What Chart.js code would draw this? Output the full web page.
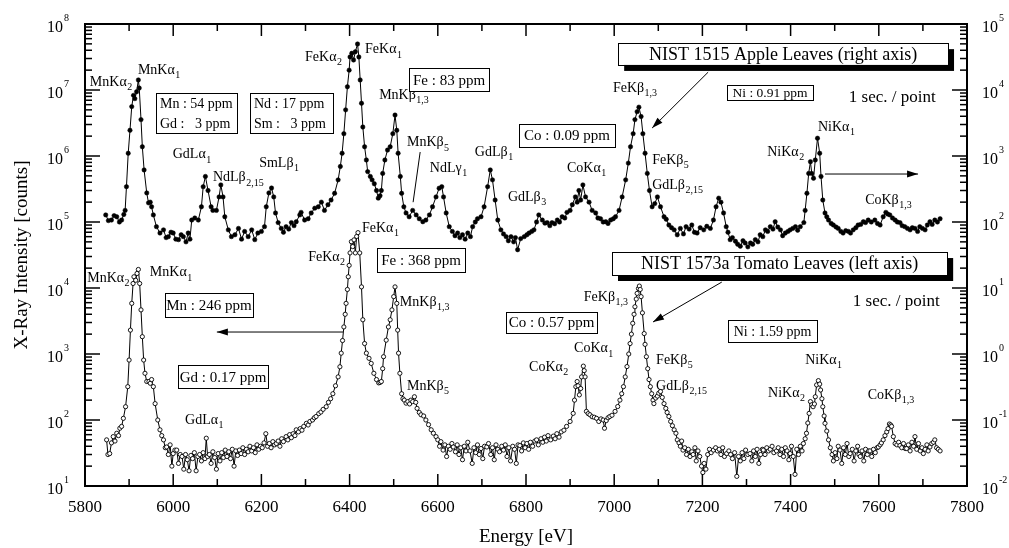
<!DOCTYPE html>
<html>
<head>
<meta charset="utf-8">
<script src="https://cdn.jsdelivr.net/npm/chart.js@4.4.1/dist/chart.umd.min.js"></script>
<style>
body { margin: 0; background: #fff; }
</style>
</head>
<body>
<canvas id="xrfChart" width="1009" height="548"></canvas>
<script>
// NIST 1515 Apple Leaves, [energy eV, counts] on the right axis
const appleScan = [
  [5847,128],[5853,105],[5860,107],[5866,125],[5872,120],[5878,100],[5883,107],[5888,130],[5891,150],[5894,343],
  [5898,1100],[5902,2450],[5906,5600],[5910,8300],[5913,7400],[5917,9400],[5921,14200],[5923,10700],[5927,3560],[5930,1380],
  [5934,615],[5940,276],[5944,195],[5948,200],[5951,170],[5955,128],[5962,85],[5970,68],[5978,76],[5984,58],
  [5989,60],[5995,70],[6000,68],[6006,55],[6012,54],[6018,64],[6023,60],[6029,50],[6034,68],[6038,55],
  [6042,107],[6049,115],[6057,107],[6064,170],[6068,343],[6073,490],[6079,300],[6086,170],[6090,150],[6098,150],
  [6104,240],[6108,365],[6113,240],[6117,120],[6125,76],[6132,60],[6140,64],[6148,80],[6155,55],[6162,72],
  [6170,60],[6178,76],[6185,54],[6192,68],[6200,72],[6207,85],[6211,170],[6217,276],[6223,327],[6228,240],
  [6232,137],[6238,98],[6245,80],[6250,70],[6256,85],[6262,78],[6268,98],[6274,88],[6279,101],[6287,128],
  [6290,140],[6298,107],[6306,112],[6313,137],[6321,162],[6329,170],[6336,200],[6343,150],[6351,183],[6358,215],
  [6366,272],[6374,435],[6379,695],[6383,1100],[6387,2180],[6391,5000],[6395,11200],[6399,20000],[6401,31700],[6405,36000],
  [6409,28500],[6413,38000],[6418,49800],[6421,31700],[6424,14200],[6427,6300],[6430,2750],[6434,1380],[6438,870],[6441,580],
  [6447,490],[6451,435],[6456,380],[6461,300],[6465,230],[6469,250],[6472,300],[6475,545],[6480,870],[6486,1230],
  [6492,1380],[6498,2180],[6503,4170],[6507,2450],[6510,1100],[6515,490],[6518,272],[6523,170],[6528,137],[6535,120],
  [6543,150],[6551,128],[6558,112],[6566,101],[6573,107],[6581,128],[6588,170],[6596,240],[6603,325],[6609,343],
  [6613,240],[6619,137],[6626,85],[6633,72],[6639,62],[6645,68],[6650,58],[6656,64],[6662,55],[6668,68],
  [6674,60],[6679,85],[6685,100],[6690,112],[6698,120],[6705,170],[6713,343],[6719,615],[6724,435],[6730,215],
  [6736,107],[6743,76],[6749,66],[6755,60],[6760,52],[6766,60],[6772,50],[6776,58],[6781,38],[6788,56],
  [6796,60],[6802,64],[6807,68],[6813,72],[6818,76],[6824,100],[6829,128],[6837,107],[6843,96],[6848,98],
  [6854,88],[6859,98],[6865,94],[6871,107],[6876,100],[6882,120],[6888,115],[6893,140],[6900,150],[6905,183],
  [6912,240],[6916,200],[6920,300],[6924,215],[6929,365],[6935,240],[6943,200],[6950,150],[6958,137],[6963,115],
  [6969,112],[6975,100],[6981,101],[6986,95],[6992,107],[6998,112],[7003,120],[7011,150],[7018,240],[7026,435],
  [7032,780],[7037,1380],[7043,2180],[7047,3560],[7052,4700],[7056,5500],[7061,3960],[7065,2180],[7070,1100],[7075,545],
  [7080,300],[7086,170],[7092,190],[7098,240],[7105,170],[7113,120],[7118,110],[7124,90],[7130,82],[7136,76],
  [7143,64],[7150,80],[7157,66],[7163,85],[7170,78],[7176,90],[7182,70],[7188,68],[7195,82],[7203,76],
  [7210,86],[7218,80],[7225,107],[7231,170],[7237,230],[7242,200],[7248,137],[7254,85],[7258,70],[7263,54],
  [7268,58],[7275,51],[7280,46],[7286,43],[7292,52],[7297,48],[7303,42],[7309,48],[7314,46],[7320,54],
  [7326,50],[7331,64],[7337,60],[7343,76],[7348,72],[7354,85],[7360,78],[7365,101],[7371,84],[7377,76],
  [7382,62],[7388,68],[7394,72],[7399,76],[7405,80],[7411,85],[7416,75],[7422,85],[7430,98],[7433,150],
  [7437,272],[7441,545],[7445,820],[7448,545],[7452,460],[7456,870],[7461,1860],[7466,1100],[7469,490],[7473,215],
  [7478,137],[7482,120],[7486,107],[7492,95],[7497,90],[7503,84],[7508,80],[7514,72],[7519,68],[7525,74],
  [7531,72],[7536,68],[7542,76],[7548,82],[7553,90],[7559,92],[7565,101],[7570,98],[7576,107],[7583,100],
  [7591,107],[7597,95],[7603,90],[7610,120],[7616,140],[7620,132],[7625,128],[7631,115],[7637,107],[7642,100],
  [7648,98],[7653,88],[7659,85],[7665,80],[7671,76],[7676,82],[7682,80],[7688,72],[7693,85],[7699,80],
  [7705,76],[7710,90],[7716,101],[7721,92],[7727,107],[7733,100],[7739,112]
];

// NIST 1573a Tomato Leaves, [energy eV, counts] on the left axis
const tomatoScan = [
  [5849,50],[5852,30],[5856,31],[5860,45],[5864,56],[5868,48],[5872,63],[5876,58],[5879,75],[5883,80],
  [5887,106],[5892,159],[5897,320],[5900,810],[5903,2300],[5906,5850],[5909,11700],[5911,14800],[5915,13100],[5918,16600],
  [5921,19100],[5924,11700],[5927,4660],[5930,1830],[5933,810],[5936,510],[5940,383],[5945,383],[5948,360],[5951,410],
  [5955,320],[5959,177],[5965,100],[5970,71],[5974,58],[5978,50],[5982,38],[5985,39],[5989,30],[5993,42],
  [5997,20],[6000,31],[6004,35],[6008,35],[6012,22],[6016,30],[6020,28],[6024,18],[6028,30],[6032,25],
  [6036,17],[6040,29],[6044,26],[6048,32],[6052,17],[6056,28],[6060,30],[6064,24],[6068,32],[6072,26],
  [6075,53],[6078,28],[6082,30],[6086,22],[6090,33],[6094,27],[6098,18],[6102,31],[6106,24],[6110,32],
  [6114,27],[6118,35],[6122,28],[6126,33],[6130,26],[6134,36],[6138,20],[6142,34],[6146,29],[6150,35],
  [6154,31],[6158,38],[6162,30],[6166,36],[6170,33],[6174,40],[6178,34],[6182,38],[6186,32],[6190,42],
  [6194,36],[6198,40],[6202,38],[6206,45],[6210,62],[6214,40],[6218,44],[6222,38],[6226,47],[6230,42],
  [6234,44],[6238,48],[6242,40],[6246,52],[6250,47],[6256,56],[6260,50],[6264,60],[6268,54],[6272,62],
  [6276,58],[6279,71],[6284,66],[6288,74],[6292,70],[6296,80],[6302,89],[6306,84],[6310,95],[6316,100],
  [6320,108],[6324,113],[6330,125],[6335,132],[6340,145],[6347,159],[6352,185],[6357,210],[6362,250],[6368,330],
  [6374,450],[6378,640],[6381,1030],[6384,1600],[6387,2570],[6390,4000],[6392,5850],[6395,9500],[6397,14800],[6399,22000],
  [6401,34000],[6404,50300],[6407,42400],[6410,53600],[6413,34000],[6416,60400],[6419,69000],[6423,34000],[6427,10400],[6430,3300],
  [6434,1440],[6438,1030],[6444,860],[6449,720],[6455,510],[6461,410],[6466,365],[6469,370],[6472,383],[6475,600],
  [6477,910],[6483,1620],[6488,2570],[6492,3300],[6496,4660],[6500,7400],[6503,10400],[6507,5850],[6509,2300],[6511,1030],
  [6514,510],[6518,250],[6521,210],[6524,200],[6528,180],[6532,190],[6536,175],[6539,200],[6543,190],[6547,225],
  [6550,185],[6553,150],[6558,130],[6562,120],[6568,115],[6573,100],[6579,85],[6585,71],[6590,63],[6596,56],
  [6600,50],[6604,40],[6607,47],[6612,35],[6616,42],[6620,28],[6624,40],[6628,36],[6632,44],[6635,39],
  [6640,33],[6644,42],[6648,30],[6652,38],[6656,25],[6660,40],[6664,34],[6668,46],[6673,34],[6678,22],
  [6682,38],[6686,32],[6690,42],[6694,30],[6698,37],[6702,26],[6706,40],[6711,39],[6715,44],[6720,30],
  [6724,38],[6728,25],[6732,42],[6736,36],[6740,33],[6745,40],[6749,35],[6753,42],[6757,28],[6761,38],
  [6765,24],[6770,40],[6774,36],[6778,22],[6782,42],[6786,41],[6790,34],[6794,45],[6798,38],[6802,44],
  [6806,36],[6810,46],[6815,40],[6820,48],[6824,50],[6828,42],[6834,52],[6838,46],[6842,55],[6846,48],
  [6850,58],[6856,50],[6862,57],[6866,52],[6870,62],[6875,55],[6880,66],[6886,70],[6892,80],[6900,95],
  [6907,126],[6910,200],[6913,320],[6916,383],[6918,330],[6921,240],[6924,300],[6926,450],[6930,655],[6932,560],
  [6934,450],[6937,135],[6941,125],[6945,120],[6950,112],[6955,110],[6960,106],[6965,95],[6970,104],[6975,100],
  [6978,75],[6982,98],[6986,108],[6990,113],[6995,118],[7002,135],[7008,160],[7013,200],[7017,250],[7021,320],
  [7025,450],[7029,645],[7033,1000],[7036,1440],[7039,2000],[7042,2920],[7045,4000],[7047,5200],[7050,6800],[7052,8300],
  [7055,9800],[7057,10700],[7059,9500],[7061,7400],[7064,4200],[7068,2040],[7070,1400],[7073,910],[7076,600],[7079,410],
  [7082,320],[7085,250],[7088,200],[7090,177],[7094,215],[7098,230],[7101,255],[7105,270],[7109,220],[7113,177],
  [7117,150],[7120,130],[7124,113],[7128,95],[7132,82],[7136,71],[7140,63],[7143,50],[7147,45],[7150,40],
  [7153,48],[7156,35],[7160,38],[7164,30],[7168,36],[7172,28],[7176,33],[7179,30],[7183,38],[7186,24],
  [7190,34],[7194,28],[7198,20],[7201,16],[7204,22],[7208,18],[7212,30],[7216,36],[7220,32],[7225,35],
  [7230,38],[7234,34],[7238,36],[7242,30],[7246,38],[7250,28],[7255,31],[7260,34],[7264,30],[7268,26],
  [7273,32],[7278,14],[7282,28],[7286,24],[7290,32],[7294,26],[7298,35],[7303,30],[7308,31],[7312,24],
  [7316,34],[7320,28],[7324,36],[7328,22],[7332,30],[7336,36],[7338,35],[7342,30],[7346,38],[7350,34],
  [7354,36],[7358,40],[7362,32],[7368,34],[7372,38],[7376,30],[7380,36],[7384,28],[7388,38],[7392,34],
  [7396,25],[7399,31],[7402,40],[7406,28],[7410,15],[7414,36],[7418,30],[7422,40],[7426,34],[7429,44],
  [7433,52],[7436,63],[7439,90],[7442,126],[7445,190],[7448,170],[7451,159],[7454,175],[7456,225],[7459,340],
  [7463,395],[7466,350],[7468,285],[7471,210],[7473,159],[7476,115],[7478,89],[7482,68],[7486,50],[7490,38],
  [7494,30],[7497,24],[7501,32],[7505,26],[7508,40],[7512,35],[7516,22],[7520,38],[7524,30],[7528,44],
  [7532,28],[7535,31],[7540,36],[7544,24],[7548,34],[7552,40],[7555,30],[7558,28],[7562,34],[7566,24],
  [7570,36],[7574,30],[7577,34],[7580,34],[7584,28],[7588,36],[7592,32],[7596,38],[7599,39],[7603,42],
  [7606,45],[7610,50],[7614,58],[7618,66],[7621,74],[7624,87],[7627,84],[7629,80],[7633,56],[7637,44],
  [7641,42],[7645,46],[7648,41],[7652,38],[7656,44],[7660,37],[7663,37],[7667,42],[7671,34],[7675,46],
  [7679,40],[7682,56],[7686,36],[7690,44],[7694,34],[7698,38],[7701,31],[7705,36],[7709,42],[7712,34],
  [7716,39],[7720,44],[7724,46],[7727,50],[7731,38],[7735,36],[7739,34]
];

// axis ranges and tick labels
const energyRange = [5800, 7800];
const energyLabels = [5800, 6000, 6200, 6400, 6600, 6800, 7000, 7200, 7400, 7600, 7800];
const leftExponents = [1, 2, 3, 4, 5, 6, 7, 8];
const rightExponents = [-2, -1, 0, 1, 2, 3, 4, 5];

// peak names: [name, subscript, energy, log10 of left-axis counts]
const peakNames = [
  ['MnKα','2',5811,7.12], ['MnKα','1',5920,7.30], ['FeKα','2',6299,7.50], ['FeKα','1',6435,7.61],
  ['MnKβ','1,3',6467,6.92], ['GdLα','1',5999,6.02], ['NdLβ','2,15',6090,5.67], ['SmLβ','1',6195,5.89],
  ['MnKβ','5',6530,6.20], ['NdLγ','1',6582,5.82], ['GdLβ','1',6684,6.06], ['GdLβ','3',6759,5.38],
  ['CoKα','1',6893,5.82], ['FeKβ','1,3',6997,7.03], ['FeKβ','5',7086,5.94], ['GdLβ','2,15',7086,5.56],
  ['NiKα','2',7347,6.06], ['NiKα','1',7462,6.44], ['CoKβ','1,3',7569,5.33],
  ['MnKα','2',5805,4.15], ['MnKα','1',5947,4.23], ['GdLα','1',6027,2.0], ['FeKα','2',6306,4.47],
  ['FeKα','1',6428,4.91], ['MnKβ','1,3',6514,3.79], ['MnKβ','5',6530,2.515], ['CoKα','2',6807,2.80],
  ['CoKα','1',6909,3.08], ['FeKβ','1,3',6931,3.86], ['FeKβ','5',7095,2.91], ['GdLβ','2,15',7095,2.515],
  ['NiKα','2',7349,2.41], ['NiKα','1',7433,2.91], ['CoKβ','1,3',7575,2.38]
];

// concentration boxes: [lines, e0, e1, top, bottom (log10 left counts), font px]
const ppmBoxes = [
  [['Fe : 83 ppm'], 6535, 6716, 7.33, 6.985, 15],
  [['Mn : 54 ppm', 'Gd :   3 ppm'], 5961, 6145, 6.955, 6.35, 14],
  [['Nd : 17 ppm', 'Sm :   3 ppm'], 6174, 6362, 6.955, 6.35, 14],
  [['Co : 0.09 ppm'], 6784, 7002, 6.485, 6.136, 15],
  [['Ni : 0.91 ppm'], 7256, 7451, 7.076, 6.85, 13.5],
  [['Mn : 246 ppm'], 5981, 6181, 3.92, 3.56, 15],
  [['Gd : 0.17 ppm'], 6011, 6215, 2.83, 2.485, 15],
  [['Fe : 368 ppm'], 6462, 6662, 4.606, 4.24, 15],
  [['Co : 0.57 ppm'], 6755, 6961, 3.636, 3.32, 15],
  [['Ni : 1.59 ppm'], 7258, 7460, 3.515, 3.18, 14]
];

const sampleBoxes = [
  ['NIST 1515 Apple Leaves (right axis)', 7009, 7757, 7.71, 7.38],
  ['NIST 1573a Tomato Leaves (left axis)', 6995, 7755, 4.545, 4.197]
];

const timeNotes = [
  ['1 sec. / point', 7532, 6.88],
  ['1 sec. / point', 7541, 3.79]
];

// [e0, log0, e1, log1, arrow head at end]
const pointers = [
  [7213, 7.27, 7086, 6.424, true],
  [6560, 6.06, 6544, 5.30, false],
  [7478, 5.727, 7689, 5.727, true],
  [7244, 4.09, 7088, 3.485, true],
  [6385, 3.333, 6099, 3.333, true]
];

const SERIF = '"Liberation Serif", "Times New Roman", serif';

function toPx(chart, e, lg) {
  return [chart.scales.x.getPixelForValue(e), chart.scales.y.getPixelForValue(Math.pow(10, lg))];
}

function subText(ctx, base, sub, x, y, size) {
  ctx.textAlign = 'left';
  ctx.textBaseline = 'middle';
  ctx.font = size + 'px ' + SERIF;
  ctx.fillText(base, x, y);
  const w = ctx.measureText(base).width;
  ctx.font = Math.round(size * 0.72) + 'px ' + SERIF;
  ctx.fillText(sub, x + w + 0.5, y + size * 0.38);
}

function powText(ctx, exp, x, y, alignRight) {
  ctx.textAlign = 'left';
  ctx.textBaseline = 'middle';
  ctx.font = '16px ' + SERIF;
  const wb = ctx.measureText('10').width;
  ctx.font = '10px ' + SERIF;
  const we = ctx.measureText(String(exp)).width;
  const x0 = alignRight ? x - wb - we - 1 : x;
  ctx.font = '16px ' + SERIF;
  ctx.fillText('10', x0, y + 4);
  ctx.font = '10px ' + SERIF;
  ctx.fillText(String(exp), x0 + wb + 1, y - 6);
}

function arrowLine(ctx, x0, y0, x1, y1, head) {
  ctx.beginPath();
  ctx.moveTo(x0, y0);
  ctx.lineTo(x1, y1);
  ctx.stroke();
  if (!head) return;
  const a = Math.atan2(y1 - y0, x1 - x0);
  const L = 11, W = 3.5;
  ctx.beginPath();
  ctx.moveTo(x1, y1);
  ctx.lineTo(x1 - L * Math.cos(a) + W * Math.sin(a), y1 - L * Math.sin(a) - W * Math.cos(a));
  ctx.lineTo(x1 - L * Math.cos(a) - W * Math.sin(a), y1 - L * Math.sin(a) + W * Math.cos(a));
  ctx.closePath();
  ctx.fill();
}

const decorations = {
  id: 'decorations',
  afterDraw(chart) {
    const { ctx, chartArea: a, scales } = chart;
    ctx.save();
    ctx.fillStyle = '#000';
    ctx.strokeStyle = '#000';

    // ticks on all four sides, pointing inward
    ctx.lineWidth = 1.5;
    const tick = (x0, y0, x1, y1) => { ctx.beginPath(); ctx.moveTo(x0, y0); ctx.lineTo(x1, y1); ctx.stroke(); };
    for (let e = energyRange[0]; e <= energyRange[1]; e += 100) {
      const x = scales.x.getPixelForValue(e);
      const len = (e % 200 === 0) ? 12 : 7;
      tick(x, a.bottom, x, a.bottom - len);
      tick(x, a.top, x, a.top + len);
    }
    [[scales.y, leftExponents, a.left, 1], [scales.yR, rightExponents, a.right, -1]].forEach(([sc, exps, x, dir]) => {
      exps.forEach((p, i) => {
        const y = sc.getPixelForValue(Math.pow(10, p));
        tick(x, y, x + dir * 15, y);
        if (i < exps.length - 1) {
          for (let m = 2; m <= 9; m++) {
            const ym = sc.getPixelForValue(m * Math.pow(10, p));
            tick(x, ym, x + dir * 7, ym);
          }
        }
      });
    });

    // frame
    ctx.lineWidth = 2;
    ctx.strokeRect(a.left, a.top, a.right - a.left, a.bottom - a.top);

    // tick labels
    ctx.textAlign = 'center';
    ctx.textBaseline = 'middle';
    ctx.font = '17px ' + SERIF;
    energyLabels.forEach(e => ctx.fillText(String(e), scales.x.getPixelForValue(e), a.bottom + 22));
    leftExponents.forEach(p => powText(ctx, p, a.left - 16, scales.y.getPixelForValue(Math.pow(10, p)), true));
    rightExponents.forEach(p => powText(ctx, p, a.right + 15, scales.yR.getPixelForValue(Math.pow(10, p)), false));

    // axis titles
    ctx.font = '19px ' + SERIF;
    ctx.textAlign = 'center';
    ctx.fillText('Energy [eV]', (a.left + a.right) / 2, 537);
    ctx.save();
    ctx.translate(22, (a.top + a.bottom) / 2);
    ctx.rotate(-Math.PI / 2);
    ctx.fillText('X-Ray Intensity [counts]', 0, 0);
    ctx.restore();

    // peak names
    peakNames.forEach(([b, s, e, lg]) => {
      const [x, y] = toPx(chart, e, lg);
      subText(ctx, b, s, x, y, 14);
    });

    // concentration boxes
    ctx.lineWidth = 1;
    ppmBoxes.forEach(([lines, e0, e1, t, b, fs]) => {
      const [x0, y0] = toPx(chart, e0, t);
      const [x1, y1] = toPx(chart, e1, b);
      ctx.fillStyle = '#fff';
      ctx.fillRect(x0, y0, x1 - x0, y1 - y0);
      ctx.strokeRect(Math.round(x0) + 0.5, Math.round(y0) + 0.5, Math.round(x1 - x0), Math.round(y1 - y0));
      ctx.fillStyle = '#000';
      ctx.font = fs + 'px ' + SERIF;
      ctx.textBaseline = 'middle';
      const step = (y1 - y0) / lines.length;
      lines.forEach((txt, i) => {
        const yy = y0 + step * (i + 0.5) + 1;
        if (lines.length > 1) {
          ctx.textAlign = 'left';
          ctx.fillText(txt, x0 + 4, yy);
        } else {
          ctx.textAlign = 'center';
          ctx.fillText(txt, (x0 + x1) / 2, yy);
        }
      });
    });

    // sample boxes with drop shadow
    sampleBoxes.forEach(([txt, e0, e1, t, b]) => {
      const [x0, y0] = toPx(chart, e0, t);
      const [x1, y1] = toPx(chart, e1, b);
      ctx.fillStyle = '#000';
      ctx.fillRect(x0 + 6, y0 + 6, x1 - x0, y1 - y0);
      ctx.fillStyle = '#fff';
      ctx.fillRect(x0, y0, x1 - x0, y1 - y0);
      ctx.strokeRect(Math.round(x0) + 0.5, Math.round(y0) + 0.5, Math.round(x1 - x0), Math.round(y1 - y0));
      ctx.fillStyle = '#000';
      ctx.font = '18px ' + SERIF;
      ctx.textAlign = 'center';
      ctx.textBaseline = 'middle';
      ctx.fillText(txt, (x0 + x1) / 2, (y0 + y1) / 2 + 1);
    });

    timeNotes.forEach(([txt, e, lg]) => {
      const [x, y] = toPx(chart, e, lg);
      ctx.font = '17px ' + SERIF;
      ctx.textAlign = 'left';
      ctx.textBaseline = 'middle';
      ctx.fillText(txt, x, y);
    });

    ctx.lineWidth = 1;
    pointers.forEach(([e0, l0, e1, l1, head]) => {
      const [x0, y0] = toPx(chart, e0, l0);
      const [x1, y1] = toPx(chart, e1, l1);
      arrowLine(ctx, x0, y0, x1, y1, head);
    });

    ctx.restore();
  }
};

new Chart(document.getElementById('xrfChart').getContext('2d'), {
  type: 'line',
  data: {
    datasets: [
      {
        label: 'NIST 1573a Tomato Leaves',
        data: tomatoScan.map(([e, c]) => ({ x: e, y: c })),
        yAxisID: 'y',
        borderColor: '#000',
        borderWidth: 1,
        pointRadius: 2.1,
        pointBorderWidth: 0.9,
        pointBackgroundColor: '#fff',
        pointBorderColor: '#000',
        tension: 0
      },
      {
        label: 'NIST 1515 Apple Leaves',
        data: appleScan.map(([e, c]) => ({ x: e, y: c })),
        yAxisID: 'yR',
        borderColor: '#000',
        borderWidth: 1,
        pointRadius: 2.2,
        pointBorderWidth: 0.5,
        pointBackgroundColor: '#000',
        pointBorderColor: '#000',
        tension: 0
      }
    ]
  },
  options: {
    responsive: false,
    animation: false,
    events: [],
    layout: { padding: { left: 85, right: 42, top: 24, bottom: 62 } },
    plugins: { legend: { display: false }, tooltip: { enabled: false } },
    scales: {
      x: { type: 'linear', min: energyRange[0], max: energyRange[1], display: false },
      y: { type: 'logarithmic', min: 10, max: 1e8, display: false },
      yR: { type: 'logarithmic', min: 0.01, max: 1e5, display: false, position: 'right' }
    }
  },
  plugins: [decorations]
});
</script>
</body>
</html>
